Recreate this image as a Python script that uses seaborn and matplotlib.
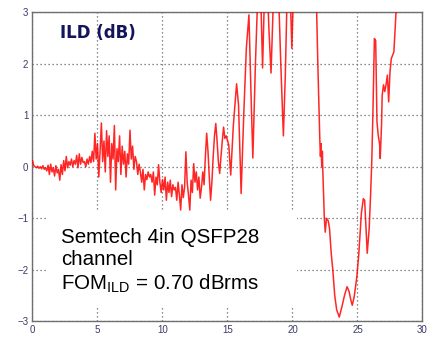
import numpy as np
import pandas as pd
import matplotlib
matplotlib.use("Agg")
import matplotlib.pyplot as plt
from matplotlib.patches import Rectangle
import seaborn as sns

# Insertion-loss deviation of the channel, sampled every 0.1 GHz up to 15 GHz
freq_dense = np.round(np.arange(0.0, 15.0, 0.1), 2)
ild_dense = [
    0.12, 0.02, 0.00, -0.02, 0.01, -0.03, 0.00, -0.04, 0.02, -0.05,
    -0.02, -0.08, 0.03, -0.15, 0.05, -0.10, -0.02, -0.18, 0.02, -0.12,
    -0.05, -0.26, 0.04, -0.15, 0.12, -0.08, 0.20, -0.02, 0.10, 0.03,
    0.15, 0.00, 0.12, 0.05, 0.22, -0.02, 0.25, 0.05, 0.18, 0.08,
    0.10, 0.00, 0.15, 0.05, 0.20, 0.08, 0.30, 0.10, 0.65, 0.15,
    0.45, -0.20, 0.30, 0.85, 0.10, 0.50, -0.10, 0.70, 0.20, 0.60,
    -0.30, 0.45, 0.15, 0.80, -0.45, 0.35, 0.10, 0.60, -0.15, 0.40,
    0.05, 0.30, -0.20, 0.25, 0.05, 0.71, 0.15, 0.40, -0.05, 0.20,
    0.10, -0.15, 0.05, -0.10, -0.30, -0.05, -0.45, -0.15, -0.25, -0.10,
    -0.20, -0.15, -0.30, -0.10, -0.55, -0.20, -0.35, 0.04, -0.30, -0.50,
    -0.25, -0.45, -0.20, -0.65, -0.30, -0.50, -0.26, -0.58, -0.35, -0.45,
    -0.40, -0.65, -0.30, -0.55, -0.84, -0.35, -0.60, -0.40, 0.29, -0.30,
    -0.55, -0.84, -0.26, -0.50, 0.06, -0.30, -0.10, -0.45, -0.20, -0.61,
    -0.40, -0.10, -0.35, 0.20, 0.65, 0.30, -0.20, -0.65, -0.30, 0.20,
    0.60, 0.84, 0.50, 0.10, -0.13, 0.20, 0.50, 0.77, 0.55, 0.60,
]

# Upper band, 15 GHz and above (values beyond +3 dB run off the plot)
freq_upper = [
    15.1, 15.25, 15.45, 15.7, 15.85, 16.05, 16.25, 16.45, 16.65,
    16.8, 16.95, 17.15, 17.35, 17.55, 17.7, 17.85, 18.05, 18.2, 18.35,
    18.5, 18.7, 18.9, 19.1, 19.3, 19.45, 19.6, 19.8, 19.95, 20.1,
    21.0, 21.8, 21.86, 21.95, 22.05, 22.1, 22.15, 22.2, 22.25, 22.3,
    22.33, 22.38, 22.45, 22.52, 22.62, 22.75, 22.85, 22.97, 23.1, 23.25,
    23.4, 23.6, 23.8, 24.0, 24.2, 24.35, 24.5, 24.6, 24.75, 24.95,
    25.1, 25.3, 25.45, 25.55, 25.75, 25.9, 26.0, 26.1, 26.2, 26.3,
    26.4, 26.5, 26.6, 26.7, 26.75, 26.85, 26.9, 27.0, 27.1, 27.2,
    27.3, 27.4, 27.5, 27.6, 27.8, 27.9, 28.05,
]
ild_upper = [
    0.42, -0.16, 0.80, 1.61, 1.20, -0.52, 1.00, 2.30, 2.95,
    1.50, 0.17, 2.00, 3.50, 3.40, 1.92, 3.40, 3.60, 2.60, 1.82,
    3.00, 3.50, 3.60, 2.00, 0.60, 1.80, 3.50, 3.60, 2.30, 3.60,
    4.00, 3.20, 3.00, 2.00, 1.00, 0.55, 0.20, 0.45, 0.00, 0.30,
    -0.05, -0.45, -1.00, -1.27, -1.00, -1.05, -1.20, -1.65, -2.00, -2.50,
    -2.78, -2.92, -2.72, -2.50, -2.33, -2.42, -2.60, -2.69, -2.52, -2.14,
    -1.70, -0.90, -0.62, -0.65, -1.68, -1.20, -0.60, 0.10, 1.20, 2.49,
    2.45, 0.87, 0.60, 0.45, 0.16, 0.81, 1.39, 1.59, 1.46, 1.60,
    1.78, 1.26, 1.84, 2.10, 2.23, 2.70, 3.40,
]

x_ticks = [0, 5, 10, 15, 20, 25, 30]
y_ticks = [-3, -2, -1, 0, 1, 2, 3]

df = pd.DataFrame({
    "freq": list(freq_dense) + freq_upper,
    "ild": ild_dense + ild_upper,
})

sns.set_style("white")
plt.rcParams["font.family"] = ["Liberation Sans", "DejaVu Sans"]
plt.rcParams["mathtext.fontset"] = "custom"
plt.rcParams["mathtext.rm"] = "Liberation Sans"

fig = plt.figure(figsize=(4.36, 3.41), dpi=100)
ax = fig.add_axes([0.0745, 0.058, 0.8945, 0.906])

sns.lineplot(data=df, x="freq", y="ild", ax=ax, color="#ff0000",
             linewidth=1.1, alpha=0.85, estimator=None, sort=False, zorder=3)

ax.set_xlim(0, 30)
ax.set_ylim(-3, 3)
ax.set_xticks(x_ticks)
ax.set_yticks(y_ticks)
ax.set_xlabel("")
ax.set_ylabel("")

ax.grid(True, color="#666666", linestyle=(0, (1, 2.2)), linewidth=0.9, zorder=0)
ax.set_axisbelow(True)
ax.tick_params(axis="both", labelsize=7, labelcolor="#3a3a6a", direction="in",
               length=3, color="#555555", pad=3)
for sp in ax.spines.values():
    sp.set_color("#6e6e6e")
    sp.set_linewidth(1.0)

# white annotation panel covering the lower-left grid
ax.add_patch(Rectangle((1.04, -2.70), 19.31, 1.82, facecolor="white",
                       edgecolor="none", zorder=2))

ax.text(2.1, 2.6, "ILD (dB)", fontsize=12, fontweight="bold", color="#14145a",
        family=["DejaVu Sans"], va="center", ha="left", zorder=4)

ax.text(2.2, -1.18,
        "Semtech 4in QSFP28\nchannel\nFOM$_{\\mathrm{ILD}}$ = 0.70 dBrms",
        fontsize=14.8, color="black", va="top", ha="left", linespacing=1.2,
        zorder=4)

fig.savefig("out.png", dpi=100)
